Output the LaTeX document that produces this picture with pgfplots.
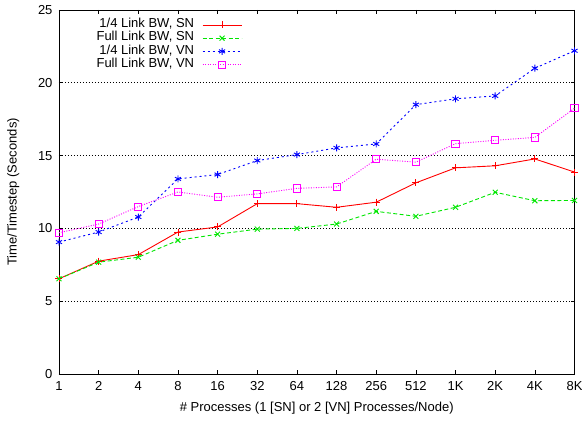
\documentclass[border=0pt]{standalone}
\usepackage{fontspec}
\setmainfont{Liberation Sans}
\usepackage{pgfplots}
\pgfplotsset{compat=1.18}
\usetikzlibrary{calc}

\definecolor{gpred}{RGB}{255,0,0}
\definecolor{gpgreen}{RGB}{0,230,0}
\definecolor{gpblue}{RGB}{0,0,255}
\definecolor{gpmagenta}{RGB}{255,0,255}

\begin{document}
\begin{tikzpicture}
\begin{axis}[
  scale only axis,
  width=515.5bp, height=364bp,
  font=\fontsize{13bp}{15bp}\selectfont,
  xmin=0, xmax=13,
  ymin=0, ymax=25,
  xtick={0,1,2,3,4,5,6,7,8,9,10,11,12,13},
  xticklabels={1,2,4,8,16,32,64,128,256,512,1K,2K,4K,8K},
  ytick={0,5,10,15,20,25},
  /pgf/number format/assume math mode=true,
  tick align=inside,
  major tick length=4bp,
  tick style={black, line width=0.6bp},
  axis line style={line width=0.9bp},
  xticklabel style={yshift=-4bp},
  yticklabel style={xshift=-3bp},
  ymajorgrids,
  grid style={black, line width=0.6bp, dash pattern=on 1bp off 2bp},
  xlabel={\# Processes (1 [SN] or 2 [VN] Processes/Node)},
  ylabel={Time/Timestep (Seconds)},
  every axis x label/.style={at={(axis description cs:0.5,0)}, anchor=base, yshift=-37.7bp, inner sep=0pt},
  every axis y label/.style={at={(axis description cs:0,0.5)}, xshift=-42.3bp, rotate=90, anchor=base, inner sep=0pt},
  legend cell align=right,
  legend plot pos=right,
  legend image code/.code={
    \draw[mark repeat=2, mark phase=2, #1] plot coordinates {(0bp,0bp) (19.5bp,0bp) (39bp,0bp)};
  },
  legend style={draw=none, fill=none, inner sep=0pt, outer sep=0pt,
    font=\fontsize{13bp}{15bp}\selectfont,
    at={(axis description cs:0.355,0.977)}, anchor=north east,
    row sep=0pt, column sep=8bp,
    nodes={inner sep=0pt, text height=9.4bp, text depth=3.8bp}},
  every axis plot/.append style={line width=0.9bp, mark options={solid}},
]
\addplot[gpred, mark=+, mark size=3.5bp] coordinates {
  (0,6.54) (1,7.75) (2,8.2) (3,9.75) (4,10.1) (5,11.7) (6,11.7)
  (7,11.45) (8,11.8) (9,13.13) (10,14.16) (11,14.3) (12,14.77) (13,13.87)
};
\addlegendentry{1/4 Link BW, SN}
\addplot[gpgreen, dash pattern=on 4bp off 2.5bp, mark=x, mark size=3.5bp] coordinates {
  (0,6.54) (1,7.68) (2,8.02) (3,9.18) (4,9.6) (5,9.95) (6,10.0)
  (7,10.3) (8,11.17) (9,10.83) (10,11.45) (11,12.48) (12,11.9) (13,11.92)
};
\addlegendentry{Full Link BW, SN}
\addplot[gpblue, dash pattern=on 2bp off 3bp, mark=asterisk, mark size=3.5bp] coordinates {
  (0,9.06) (1,9.75) (2,10.78) (3,13.4) (4,13.7) (5,14.66) (6,15.07)
  (7,15.53) (8,15.8) (9,18.5) (10,18.9) (11,19.1) (12,21.0) (13,22.2)
};
\addlegendentry{1/4 Link BW, VN}
\addplot[gpmagenta, dash pattern=on 1bp off 1.5bp, mark=square, mark size=3.6bp] coordinates {
  (0,9.7) (1,10.3) (2,11.5) (3,12.5) (4,12.14) (5,12.37) (6,12.75)
  (7,12.85) (8,14.75) (9,14.55) (10,15.82) (11,16.05) (12,16.25) (13,18.25)
};
\addlegendentry{Full Link BW, VN}
\end{axis}
\pgfresetboundingbox
\path ($(current axis.south west)+(-59bp,-47bp)$) rectangle ($(current axis.north east)+(7.5bp,10bp)$);
\end{tikzpicture}
\end{document}
